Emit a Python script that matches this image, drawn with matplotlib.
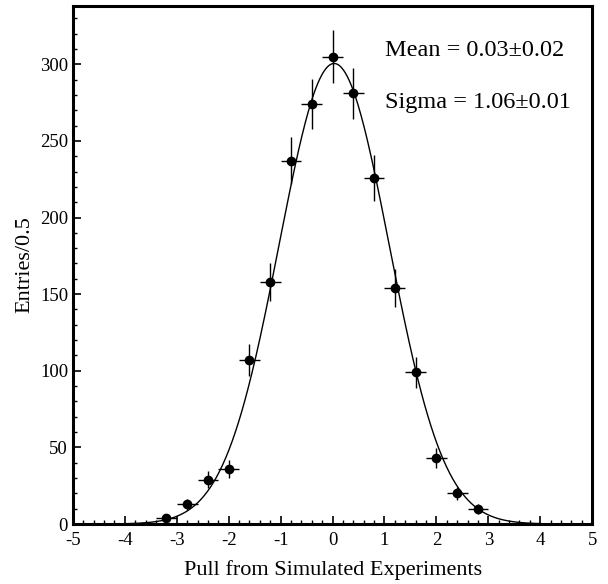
import numpy as np
import matplotlib.pyplot as plt
from matplotlib.ticker import MultipleLocator

# binned pull values
pull_x = [-3.2, -2.8, -2.4, -2.0, -1.6, -1.2, -0.8, -0.4, 0.0, 0.4, 0.8, 1.2, 1.6, 2.0, 2.4, 2.8]
entries = [4, 13, 29, 36, 107, 158, 237, 274, 305, 281, 226, 154, 99, 43, 20, 10]
bin_half = 0.2

# gaussian fit parameters
fit_mean = 0.03
fit_sigma = 1.06
fit_amp = 300.5

plt.rcParams['font.family'] = ['Liberation Serif', 'DejaVu Serif']
plt.rcParams['axes.unicode_minus'] = False

fig = plt.figure(figsize=(6.08, 5.84), dpi=100)
ax = fig.add_axes([0.120, 0.1027, 0.854, 0.887])

xs = np.linspace(-5, 5, 500)
ax.plot(xs, fit_amp * np.exp(-0.5 * ((xs - fit_mean) / fit_sigma) ** 2),
        color='black', lw=1.0)

yerr = np.sqrt(entries)
ax.errorbar(pull_x, entries, xerr=bin_half, yerr=yerr, fmt='o', color='black',
            ms=6, elinewidth=1.0, capsize=0)

ax.set_xlim(-5, 5)
ax.set_ylim(0, 338)
ax.xaxis.set_major_locator(MultipleLocator(1))
ax.xaxis.set_minor_locator(MultipleLocator(0.2))
ax.yaxis.set_major_locator(MultipleLocator(50))
ax.yaxis.set_minor_locator(MultipleLocator(10))
ax.tick_params(which='both', direction='in', top=False, right=False, labelsize=13.5)
ax.tick_params(axis='x', pad=6)
ax.tick_params(which='major', length=6, width=1.2)
ax.tick_params(which='minor', length=3, width=1.0)
for s in ax.spines.values():
    s.set_linewidth(2.2)

ax.set_xlabel('Pull from Simulated Experiments', fontsize=16, labelpad=8)
ax.set_ylabel('Entries/0.5', fontsize=16, labelpad=4)

ax.text(0.601, 0.915, 'Mean = 0.03\u00b10.02', transform=ax.transAxes,
        fontsize=17.5, va='center')
ax.text(0.601, 0.813, 'Sigma = 1.06\u00b10.01', transform=ax.transAxes,
        fontsize=17.5, va='center')

fig.savefig('out.png', dpi=100)
